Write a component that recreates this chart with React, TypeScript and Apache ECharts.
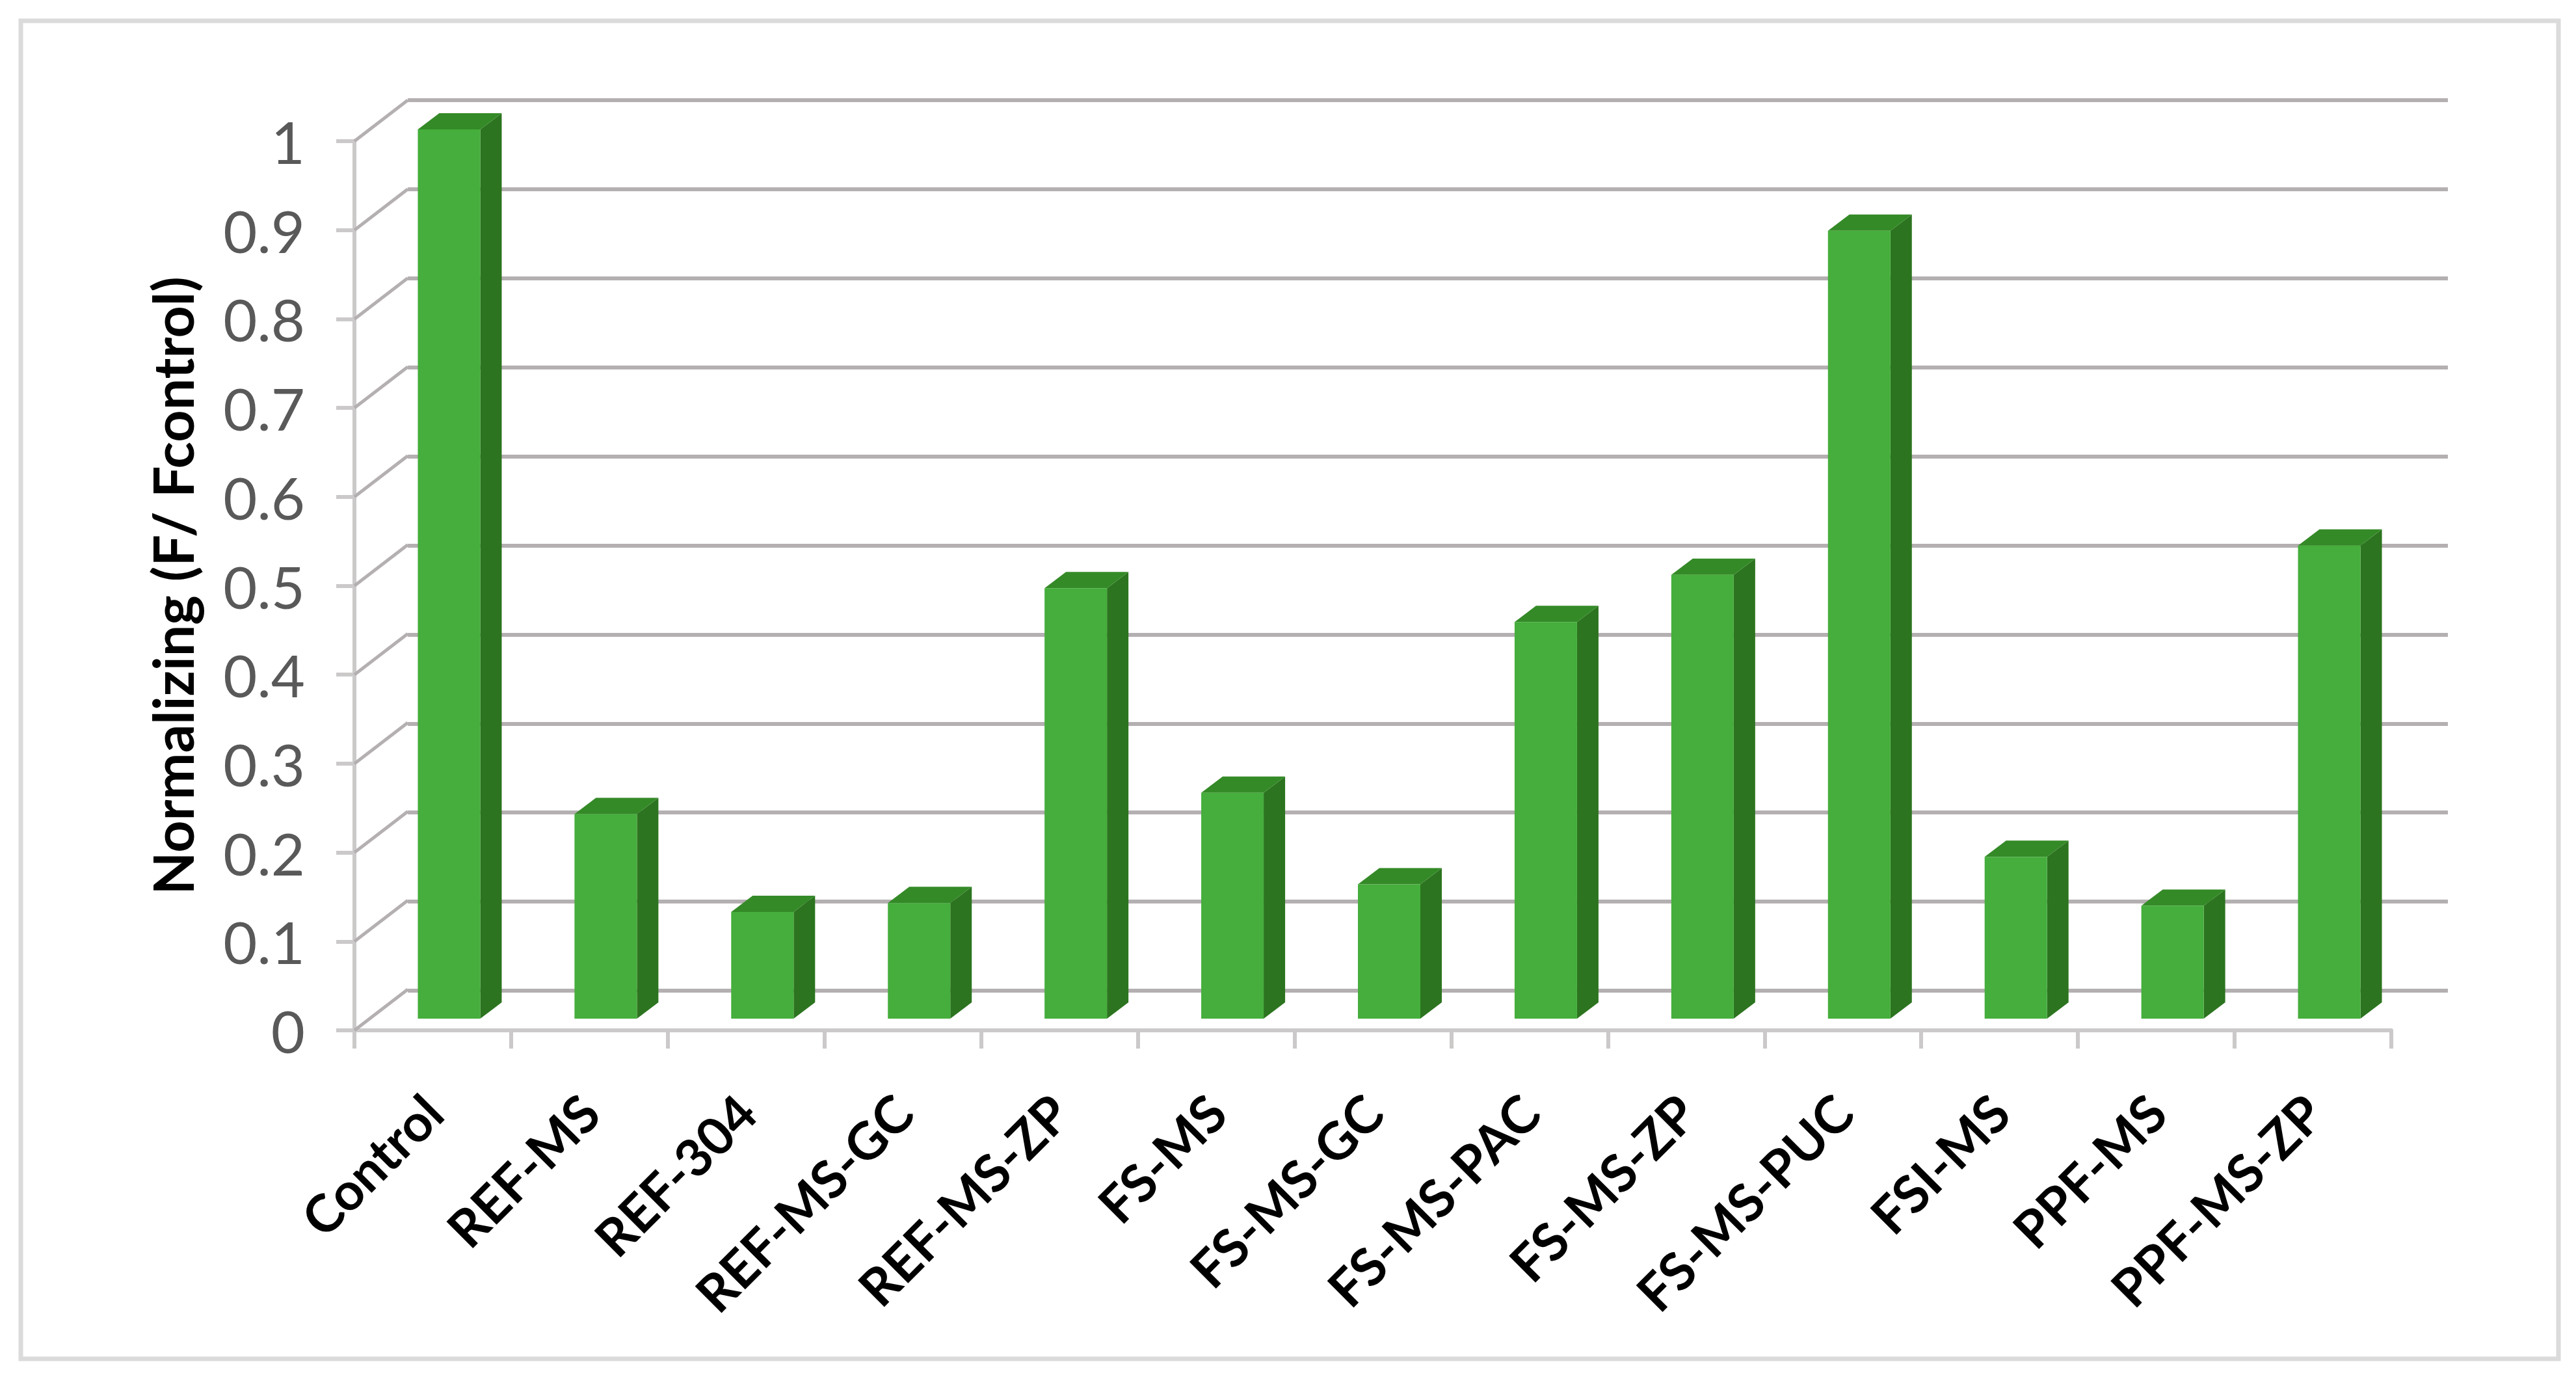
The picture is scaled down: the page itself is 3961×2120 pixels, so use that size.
import React, { useEffect, useRef } from "react";
import * as echarts from "echarts";

const categories = ["Control", "REF-MS", "REF-304", "REF-MS-GC", "REF-MS-ZP", "FS-MS", "FS-MS-GC", "FS-MS-PAC", "FS-MS-ZP", "FS-MS-PUC", "FSI-MS", "PPF-MS", "PPF-MS-ZP"];
const values = [1, 0.23, 0.12, 0.13, 0.484, 0.254, 0.151, 0.446, 0.499, 0.886, 0.182, 0.127, 0.532];
const yTicks = [0, 0.1, 0.2, 0.3, 0.4, 0.5, 0.6, 0.7, 0.8, 0.9, 1];
const yAxisTitle = "Normalizing (F/ Fcontrol)";

const FONT = "Lato";
const AXIS = "#cbc9c9";
const WALL = "#b4afb1";

export default function App() {
  const ref = useRef<HTMLDivElement>(null);
  useEffect(() => {
    document.body.style.margin = "0";
    const chart = echarts.init(ref.current!, undefined, { renderer: "svg" });
    chart.setOption({
      animation: false,
      backgroundColor: "#ffffff",
      graphic: [
        {
          type: "rect",
          shape: { x: 32, y: 32, width: 3902, height: 2057 },
          style: { fill: "none", stroke: "#dbdbdb", lineWidth: 7 },
          z: 0,
        },
      ],
      grid: [
        { left: 545, top: 217, width: 3132, height: 1367 },
        { left: 627, top: 154, width: 3137, height: 1369 },
      ],
      xAxis: [
        {
          type: "category",
          gridIndex: 0,
          data: categories,
          axisLine: { show: true, lineStyle: { color: AXIS, width: 6 } },
          axisTick: { show: true, alignWithLabel: false, length: 28, lineStyle: { color: AXIS, width: 6 } },
          axisLabel: {
            interval: 0,
            rotate: 45,
            margin: 112,
            color: "#000000",
            fontFamily: FONT,
            fontWeight: "bold",
            fontSize: 80,
          },
        },
        { type: "category", gridIndex: 1, data: categories, show: false },
      ],
      yAxis: [
        {
          type: "value",
          gridIndex: 0,
          min: 0,
          max: 1,
          interval: 0.1,
          name: yAxisTitle,
          nameLocation: "middle",
          nameGap: 238,
          nameTextStyle: { color: "#000000", fontFamily: FONT, fontWeight: "bold", fontSize: 86 },
          axisLine: { show: true, lineStyle: { color: AXIS, width: 6 } },
          axisTick: { show: true, length: 28, lineStyle: { color: AXIS, width: 6 } },
          splitLine: { show: false },
          axisLabel: {
            margin: 76,
            color: "#595959",
            fontFamily: FONT,
            fontSize: 90,
            formatter: (v: number) => String(Number(v.toFixed(1))),
          },
        },
        {
          type: "value",
          gridIndex: 1,
          min: 0,
          max: 1,
          interval: 0.1,
          axisLine: { show: false },
          axisTick: { show: false },
          axisLabel: { show: false },
          splitLine: { show: true, lineStyle: { color: WALL, width: 6 } },
        },
      ],
      series: [
        {
          type: "custom",
          xAxisIndex: 0,
          yAxisIndex: 0,
          z: 2,
          silent: true,
          data: yTicks.map((v) => [0, v]),
          renderItem: (_p: any, api: any) => {
            const c = api.coord([api.value(0), api.value(1)]);
            const band = api.size([1, 0])[0];
            const x0 = c[0] - band / 2;
            return {
              type: "line",
              shape: { x1: x0, y1: c[1], x2: x0 + 82, y2: c[1] - 63 },
              style: { stroke: WALL, lineWidth: 5 },
            };
          },
        },
        {
          type: "custom",
          xAxisIndex: 0,
          yAxisIndex: 0,
          z: 3,
          silent: true,
          data: values.map((v, i) => [i, v]),
          renderItem: (_p: any, api: any) => {
            const top = api.coord([api.value(0), api.value(1)]);
            const bottom = api.coord([api.value(0), 0]);
            const w = 96;
            const dx = 33;
            const dy = 25;
            const l = top[0] - 23;
            const r = l + w;
            const t = top[1] - 18;
            const b = bottom[1] - 18;
            return {
              type: "group",
              children: [
                { type: "polygon", shape: { points: [[r, t], [r + dx, t - dy], [r + dx, b - dy], [r, b]] }, style: { fill: "#2c741f" } },
                { type: "polygon", shape: { points: [[l, t], [l + dx, t - dy], [r + dx, t - dy], [r, t]] }, style: { fill: "#348a27" } },
                { type: "rect", shape: { x: l, y: t, width: w, height: b - t }, style: { fill: "#45ae3c" } },
              ],
            };
          },
        },
      ],
    });
    return () => chart.dispose();
  }, []);
  return <div ref={ref} style={{ position: "absolute", left: 0, top: 0, width: 3961, height: 2120 }} />;
}
